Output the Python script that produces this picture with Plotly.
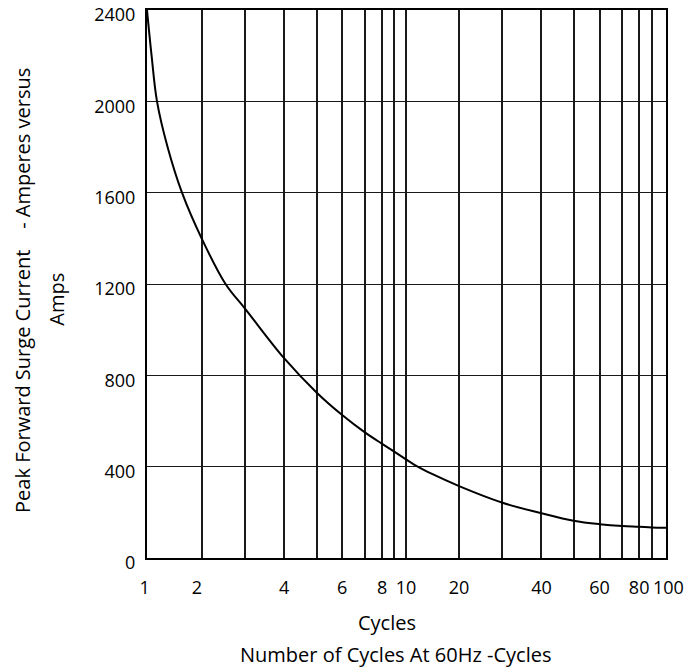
import numpy as np
import plotly.graph_objects as go

# --- data ---
cycles = [1, 1.084, 1.183, 1.377, 1.641, 2, 2.546, 3, 4, 5, 6, 7, 8, 9, 10,
          12.2, 14.9, 20, 30, 40, 50, 60, 70, 80, 90, 100]
amps = [2400, 2200, 2000, 1800, 1600, 1400, 1200, 1090, 875, 725, 626, 549, 500, 466, 432,
        400, 368, 315, 242, 196, 163, 148, 140, 137, 134, 133]

# axis (as printed: a non-uniform "log-like" cycle scale)
grid_cycles = [1, 2, 3, 4, 5, 6, 7, 8, 9, 10, 20, 30, 40, 50, 60, 70, 80, 90, 100]
grid_pos = [0, 0.2104, 0.3792, 0.5282, 0.6533, 0.7521, 0.8409, 0.9062, 0.9529, 0.998,
            1.2027, 1.3699, 1.5201, 1.6436, 1.7440, 1.8320, 1.8965, 1.9448, 2.0]
NB = "\u00a0"
labeled = {1: "1" + NB, 2: "2" + NB * 2, 4: "4", 6: "6", 8: "8", 10: "10", 20: "20",
           40: "40", 60: "60", 80: "80", 100: NB + "100"}
y_ticks = [0, 400, 800, 1200, 1600, 2000, 2400]


def warp(c):
    return np.interp(c, grid_cycles, grid_pos)


FONT = "Open Sans"

fig = go.Figure()
fig.add_trace(go.Scatter(
    x=warp(cycles), y=amps, mode="lines",
    line=dict(color="black", width=2, shape="spline", smoothing=1.0),
    showlegend=False, hoverinfo="skip"))

fig.update_xaxes(
    range=[0, 2], tickmode="array", tickvals=grid_pos,
    ticktext=[labeled.get(c, "") for c in grid_cycles],
    showgrid=True, gridcolor="#1a1a1a", gridwidth=1.6,
    showline=True, linecolor="black", linewidth=2, mirror=True,
    zeroline=False, ticks="", ticklabelstandoff=12, automargin=False,
    tickangle=0, ticklabeloverflow="allow",
    tickfont=dict(family=FONT, size=18, color="black"))
fig.update_yaxes(
    range=[0, 2400], tickmode="array", tickvals=y_ticks,
    showgrid=True, gridcolor="#1a1a1a", gridwidth=1.4,
    showline=True, linecolor="black", linewidth=2, mirror=True,
    zeroline=False, ticks="", ticklabelstandoff=6, ticklabelshift=5,
    automargin=False, ticklabeloverflow="allow",
    tickfont=dict(family=FONT, size=18, color="black"))

ann = dict(xref="paper", yref="paper", showarrow=False,
           font=dict(family=FONT, size=20, color="black"))
fig.add_annotation(text="Cycles", x=0.463, y=-0.117, yanchor="middle", **ann)
fig.add_annotation(text="Number of Cycles At 60Hz -Cycles", x=0.479, y=-0.176,
                   yanchor="middle", **ann)
fig.add_annotation(text="Peak Forward Surge Current    - Amperes versus",
                   x=-0.241, y=0.489, xanchor="center", yanchor="middle",
                   textangle=-90, **ann)
fig.add_annotation(text="Amps", x=-0.176, y=0.4726, xanchor="center",
                   yanchor="middle", textangle=-90, **ann)

fig.update_layout(
    width=692, height=668,
    margin=dict(l=147, r=26, t=10, b=110),
    plot_bgcolor="white", paper_bgcolor="white",
    font=dict(family=FONT, size=18, color="black"))

fig.write_html("out.html", config={"displayModeBar": False},
               post_script="document.body.style.margin='0';")
